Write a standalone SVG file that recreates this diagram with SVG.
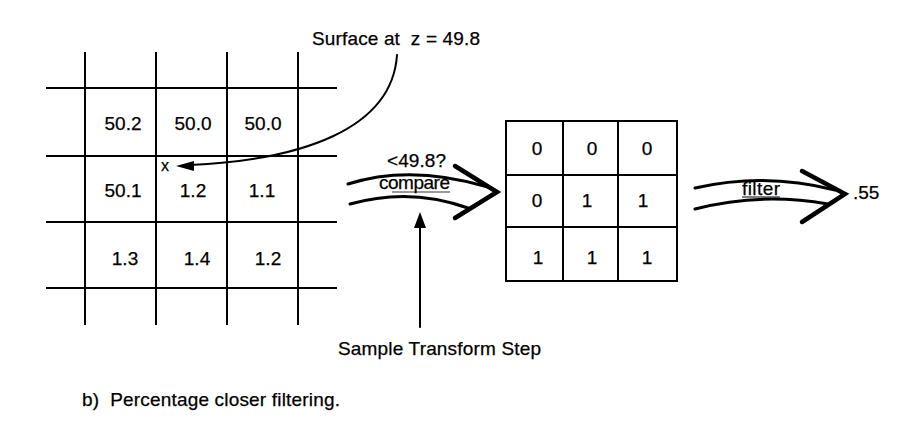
<svg xmlns="http://www.w3.org/2000/svg" width="913" height="423" viewBox="0 0 913 423">
<style>
.t{font-family:"Liberation Sans",Arial,sans-serif;font-size:19px;fill:#000;stroke:#000;stroke-width:0.25}
.c{text-anchor:middle}
.g{stroke:#000;stroke-width:2;fill:none}
.ln{stroke:#000;fill:none;stroke-linecap:round}
</style>
<rect width="913" height="423" fill="#fff"/>
<g id="depth-grid">
<path class="g" d="M85,52V325M156,52V325M227,52V325M298,52V325M46,88H337M46,156H337M46,222H337M46,288H337"/>
<text class="t c" x="123" y="130">50.2</text>
<text class="t c" x="193" y="130">50.0</text>
<text class="t c" x="263" y="130">50.0</text>
<text class="t c" x="123" y="197">50.1</text>
<text class="t c" x="193" y="197">1.2</text>
<text class="t c" x="262" y="197">1.1</text>
<text class="t c" x="125" y="265">1.3</text>
<text class="t c" x="197" y="265">1.4</text>
<text class="t c" x="268" y="265">1.2</text>
<text class="t c" x="165" y="171" style="font-size:16px">x</text>
</g>
<g id="surface-label">
<text class="t" x="312" y="45" textLength="168" xml:space="preserve">Surface at  z = 49.8</text>
</g>
<g id="binary-grid">
<rect class="g" x="506" y="121" width="171" height="160"/>
<path class="g" d="M563,121V281M618,121V281M506,175H677M506,227H677"/>
<text class="t c" x="537" y="155">0</text>
<text class="t c" x="592" y="155">0</text>
<text class="t c" x="647" y="155">0</text>
<text class="t c" x="537" y="207">0</text>
<text class="t c" x="587" y="207">1</text>
<text class="t c" x="643" y="207">1</text>
<text class="t c" x="538" y="264">1</text>
<text class="t c" x="592" y="264">1</text>
<text class="t c" x="647" y="264">1</text>
</g>
<g id="compare-arrow">
<path class="ln" stroke-width="3" d="M348,184 Q410,164 488,187"/>
<path class="ln" stroke-width="3" d="M350,204 Q410,187 468,208"/>
<path class="ln" stroke-width="4.5" stroke-linejoin="miter" d="M455,166 L497,192 L455,218"/>
<text class="t" x="387" y="167" textLength="59">&lt;49.8?</text>
<text class="t" x="379" y="189" textLength="71">compare</text>
<line x1="392" y1="192" x2="450" y2="192" stroke="#000" stroke-width="0.8"/>
</g>
<g id="filter-arrow">
<path class="ln" stroke-width="3" d="M695,188 Q765,172 835,190"/>
<path class="ln" stroke-width="3" d="M695,209 Q760,192 828,204"/>
<path class="ln" stroke-width="4.5" stroke-linejoin="miter" d="M802,171 L845,194 L802,222"/>
<text class="t" x="742" y="195" textLength="38">filter</text>
<line x1="742" y1="197" x2="780" y2="197" stroke="#000" stroke-width="1"/>
</g>
<g id="result">
<text class="t" x="853" y="199">.55</text>
</g>
<g id="step-label">
<text class="t" x="338" y="355" textLength="203">Sample Transform Step</text>
</g>
<g id="connectors">
<path class="ln" stroke-width="2" d="M397,55 C392,130 300,160 190,165"/>
<polygon points="176,166 194,161 194,171" fill="#000"/>
<line class="ln" stroke-width="2" x1="420" y1="327" x2="420" y2="224"/>
<polygon points="420,212 414,228 426,228" fill="#000"/>
</g>
<g id="caption">
<text class="t" x="82" y="406" textLength="258" xml:space="preserve">b)  Percentage closer filtering.</text>
</g>
</svg>
